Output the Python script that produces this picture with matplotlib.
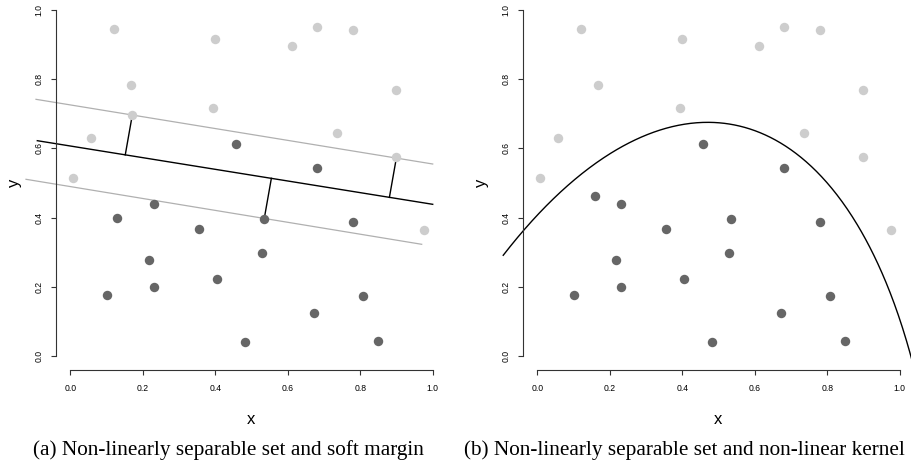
import numpy as np
import matplotlib
matplotlib.use("Agg")
import matplotlib.pyplot as plt

plt.rcParams['font.family'] = ['Liberation Sans', 'DejaVu Sans']

# panel (a): points
a_light_x = [0.121, 0.398, 0.613, 0.681, 0.780, 0.168, 0.898, 0.171, 0.394, 0.058, 0.736, 0.900, 0.008, 0.977]
a_light_y = [0.946, 0.915, 0.895, 0.952, 0.942, 0.782, 0.769, 0.696, 0.716, 0.630, 0.645, 0.574, 0.514, 0.364]
a_dark_x = [0.457, 0.681, 0.128, 0.231, 0.356, 0.535, 0.779, 0.217, 0.528, 0.404, 0.100, 0.230, 0.808, 0.673, 0.482, 0.848]
a_dark_y = [0.614, 0.543, 0.400, 0.440, 0.368, 0.396, 0.386, 0.276, 0.299, 0.2225, 0.176, 0.200, 0.174, 0.123, 0.040, 0.043]

# panel (b): points
b_light_x = [0.121, 0.398, 0.613, 0.681, 0.780, 0.168, 0.898, 0.394, 0.058, 0.736, 0.900, 0.008, 0.977]
b_light_y = [0.946, 0.915, 0.895, 0.952, 0.942, 0.782, 0.769, 0.716, 0.630, 0.645, 0.574, 0.514, 0.364]
b_dark_x = [0.457, 0.681, 0.160, 0.231, 0.356, 0.535, 0.779, 0.217, 0.528, 0.404, 0.100, 0.230, 0.808, 0.673, 0.482, 0.848]
b_dark_y = [0.614, 0.543, 0.462, 0.440, 0.368, 0.396, 0.386, 0.276, 0.299, 0.2225, 0.176, 0.200, 0.174, 0.123, 0.040, 0.043]

# soft margin hyperplane and margins (endpoints)
center_x = [-0.091, 1.0]
center_y = [0.6223, 0.4384]
upper_x = [-0.0946, 1.0]
upper_y = [0.7419, 0.5549]
lower_x = [-0.1222, 0.9696]
lower_y = [0.5107, 0.3228]

# points with slack drawn to the hyperplane
slack_x = [0.171, 0.535, 0.900]
slack_y = [0.696, 0.396, 0.574]

# non-linear kernel boundary
curve_x = [-0.094, -0.040, 0.026, 0.118, 0.164, 0.228, 0.256, 0.320, 0.412, 0.472,
           0.532, 0.596, 0.6145, 0.642, 0.706, 0.798, 0.872, 0.9365, 0.9825, 1.019, 1.033]
curve_y = [0.291, 0.362, 0.4315, 0.523, 0.5616, 0.602, 0.615, 0.648, 0.6725, 0.6754,
           0.6705, 0.653, 0.645, 0.632, 0.586, 0.504, 0.4026, 0.2775, 0.152, 0.0367, -0.002]

captions = ["(a) Non-linearly separable set and soft margin",
            "(b) Non-linearly separable set and non-linear kernel"]

LIGHT = '#cdcdcd'
DARK = '#666666'

W, H = 912, 462
fig = plt.figure(figsize=(W / 100, H / 100), dpi=100)
ax1 = fig.add_axes([55.8 / W, (H - 369.8) / H, 391.4 / W, 373.6 / H])
ax2 = fig.add_axes([522.8 / W, (H - 369.8) / H, 391.4 / W, 373.6 / H])


def style(ax):
    ax.set_xlim(-0.04, 1.04)
    ax.set_ylim(-0.04, 1.04)
    for s in ['top', 'right']:
        ax.spines[s].set_visible(False)
    for s in ['left', 'bottom']:
        ax.spines[s].set_bounds(0, 1)
        ax.spines[s].set_linewidth(0.8)
        ax.spines[s].set_color('#333333')
    ticks = [0.0, 0.2, 0.4, 0.6, 0.8, 1.0]
    ax.set_xticks(ticks)
    ax.set_yticks(ticks)
    ax.set_xticklabels(['%.1f' % t for t in ticks])
    ax.set_yticklabels(['%.1f' % t for t in ticks], rotation=90, va='center')
    ax.tick_params(axis='both', direction='out', length=3.6, width=0.8,
                   labelsize=6.2, color='#333333')
    ax.tick_params(axis='x', pad=6.5)
    ax.tick_params(axis='y', pad=5)
    ax.set_xlabel('x', fontsize=12, labelpad=14)
    ax.set_ylabel('y', fontsize=12, labelpad=9)


style(ax1)
style(ax2)

# panel (a)
ax1.plot(upper_x, upper_y, color='#b0b0b0', lw=0.9, clip_on=False, zorder=1)
ax1.plot(lower_x, lower_y, color='#b0b0b0', lw=0.9, clip_on=False, zorder=1)
ax1.plot(center_x, center_y, color='black', lw=1.0, clip_on=False, zorder=1)

# foot of the perpendicular from each slack point onto the hyperplane
m = (center_y[1] - center_y[0]) / (center_x[1] - center_x[0])
c = center_y[0] - m * center_x[0]
for px, py in zip(slack_x, slack_y):
    f = (py - m * px - c) / (1 + m * m)
    ax1.plot([px, px + m * f], [py, py - f], color='black', lw=1.0, zorder=1)

ax1.plot(a_light_x, a_light_y, 'o', color=LIGHT, ms=6.8, mec='none', zorder=3)
ax1.plot(a_dark_x, a_dark_y, 'o', color=DARK, ms=6.8, mec='none', zorder=3)

# panel (b): the read boundary points lie on a conic (degree-2 kernel);
# least squares fit of A x^2 + B xy + C y^2 + D x + E y = 1, then draw its upper branch
cx = np.array(curve_x)
cy = np.array(curve_y)
M = np.column_stack([cx ** 2, cx * cy, cy ** 2, cx, cy])
A, B, C, D, E = np.linalg.lstsq(M, np.ones_like(cx), rcond=None)[0]
xs = np.linspace(cx[0], cx[-1], 400)
qb = B * xs + E
qc = A * xs ** 2 + D * xs - 1
disc = np.sqrt(np.maximum(qb ** 2 - 4 * C * qc, 0))
roots = [(-qb + disc) / (2 * C), (-qb - disc) / (2 * C)]
errs = [np.abs(np.interp(cx, xs, r) - cy).mean() for r in roots]
ys = roots[int(np.argmin(errs))]
ax2.plot(xs, ys, color='black', lw=1.0, clip_on=False, zorder=1)

ax2.plot(b_light_x, b_light_y, 'o', color=LIGHT, ms=6.8, mec='none', zorder=3)
ax2.plot(b_dark_x, b_dark_y, 'o', color=DARK, ms=6.8, mec='none', zorder=3)

for i, cap in enumerate(captions):
    fig.text((228 + 456 * i) / W, 7.5 / H, cap, ha='center', va='baseline',
             fontsize=15.3, family='Liberation Serif')

fig.savefig('out.png', dpi=100)
